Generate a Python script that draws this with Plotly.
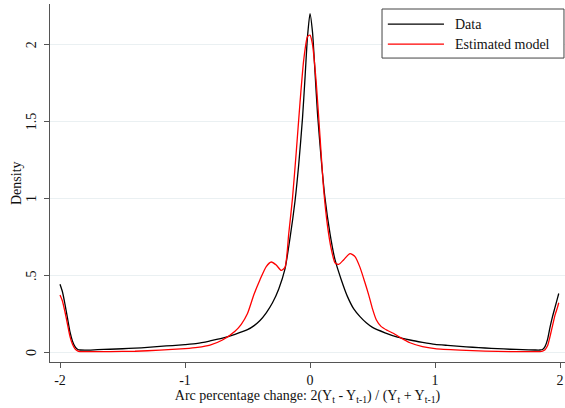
import plotly.graph_objects as go

# Kernel density: observed data
x_data = [-2.00, -1.98, -1.96, -1.94, -1.92, -1.90, -1.88, -1.86, -1.84, -1.80,
          -1.70, -1.60, -1.50, -1.40, -1.30, -1.20, -1.10, -1.00, -0.90, -0.80,
          -0.70, -0.60, -0.50, -0.45, -0.40, -0.35, -0.30, -0.25, -0.20, -0.16,
          -0.12, -0.09, -0.06, -0.04, -0.02, 0.00, 0.02, 0.04, 0.06, 0.09,
          0.12, 0.16, 0.20, 0.25, 0.30, 0.35, 0.40, 0.45, 0.50, 0.60,
          0.70, 0.80, 0.90, 1.00, 1.10, 1.20, 1.30, 1.40, 1.50, 1.60,
          1.70, 1.80, 1.84, 1.86, 1.88, 1.90, 1.92, 1.94, 1.96, 1.98, 1.99]
y_data = [0.44, 0.39, 0.31, 0.22, 0.13, 0.07, 0.035, 0.018, 0.013, 0.012,
          0.015, 0.018, 0.021, 0.025, 0.030, 0.037, 0.042, 0.048, 0.056, 0.072,
          0.090, 0.115, 0.145, 0.170, 0.205, 0.255, 0.32, 0.41, 0.54, 0.74,
          0.98, 1.22, 1.52, 1.78, 2.05, 2.20, 2.08, 1.82, 1.55, 1.25,
          1.00, 0.77, 0.60, 0.47, 0.36, 0.28, 0.23, 0.19, 0.16, 0.125,
          0.097, 0.078, 0.063, 0.050, 0.043, 0.037, 0.031, 0.026, 0.022, 0.018,
          0.015, 0.013, 0.013, 0.016, 0.035, 0.08, 0.16, 0.23, 0.29, 0.35, 0.38]

# Kernel density: estimated model
x_model = [-2.00, -1.98, -1.96, -1.94, -1.92, -1.90, -1.88, -1.86, -1.84, -1.80,
           -1.60, -1.40, -1.20, -1.00, -0.90, -0.80, -0.70, -0.60, -0.55, -0.50,
           -0.45, -0.40, -0.35, -0.31, -0.27, -0.23, -0.20, -0.17, -0.14, -0.11,
           -0.08, -0.05, -0.02, 0.00, 0.02, 0.05, 0.08, 0.11, 0.14, 0.17,
           0.20, 0.23, 0.27, 0.32, 0.36, 0.40, 0.44, 0.47, 0.50, 0.53,
           0.57, 0.62, 0.67, 0.72, 0.80, 0.90, 1.00, 1.20, 1.40, 1.60,
           1.80, 1.84, 1.86, 1.88, 1.90, 1.92, 1.94, 1.96, 1.98, 1.99]
y_model = [0.37, 0.33, 0.26, 0.18, 0.10, 0.05, 0.02, 0.007, 0.003, 0.002,
           0.003, 0.005, 0.012, 0.022, 0.030, 0.045, 0.078, 0.135, 0.18, 0.25,
           0.37, 0.47, 0.555, 0.585, 0.565, 0.53, 0.55, 0.77, 1.00, 1.30,
           1.62, 1.90, 2.05, 2.06, 2.00, 1.75, 1.40, 1.05, 0.82, 0.67,
           0.58, 0.57, 0.60, 0.64, 0.62, 0.55, 0.45, 0.37, 0.28, 0.21,
           0.165, 0.14, 0.12, 0.095, 0.06, 0.035, 0.022, 0.012, 0.006, 0.003,
           0.002, 0.003, 0.006, 0.015, 0.04, 0.10, 0.17, 0.24, 0.29, 0.32]

x_ticks = [-2, -1, 0, 1, 2]
x_tick_text = ["-2", "-1", "0", "1", "2"]
y_ticks = [0, 0.5, 1, 1.5, 2]
y_tick_text = ["0", ".5", "1", "1.5", "2"]
series_names = ["Data", "Estimated model"]
series_colors = ["black", "red"]

FONT = "Liberation Serif, Times New Roman, serif"
TXT = "#111111"

fig = go.Figure()
for xs, ys, name, color in [(x_data, y_data, series_names[0], series_colors[0]),
                            (x_model, y_model, series_names[1], series_colors[1])]:
    fig.add_trace(go.Scatter(x=xs, y=ys, mode="lines", name=name, showlegend=False,
                             line=dict(color=color, width=1.3, shape="spline", smoothing=0.6)))

# Legend box (drawn manually to match the long line samples)
shapes = [dict(type="rect", xref="paper", yref="paper", x0=0.6447, x1=0.998,
               y0=0.849, y1=0.986, line=dict(color="#444444", width=1),
               fillcolor="white", layer="above")]
annotations = []
for name, color, ly in zip(series_names, series_colors, [0.944, 0.888]):
    shapes.append(dict(type="line", xref="paper", yref="paper", x0=0.656, x1=0.765,
                       y0=ly, y1=ly, line=dict(color=color, width=1.3), layer="above"))
    annotations.append(dict(xref="paper", yref="paper", x=0.7825, y=ly, text=name,
                            showarrow=False, xanchor="left", yanchor="middle",
                            font=dict(family=FONT, size=14, color=TXT)))

# Rotated y tick labels placed on the y scale
for v, t in zip(y_ticks, y_tick_text):
    annotations.append(dict(xref="paper", yref="y", x=-0.037, y=v, text=t,
                            textangle=-90, showarrow=False, xanchor="center",
                            yanchor="middle", font=dict(family=FONT, size=14, color=TXT)))
# y axis title
annotations.append(dict(xref="paper", yref="paper", x=-0.066, y=0.5, text="Density",
                        textangle=-90, showarrow=False, xanchor="center", yanchor="middle",
                        font=dict(family=FONT, size=14, color=TXT)))

fig.update_layout(
    width=565, height=408,
    margin=dict(l=50, r=0, t=4, b=46),
    plot_bgcolor="white", paper_bgcolor="white",
    font=dict(family=FONT, size=14, color=TXT),
    shapes=shapes, annotations=annotations,
    xaxis=dict(range=[-2.08, 2.04], tickvals=x_ticks, ticktext=x_tick_text,
               showgrid=False, zeroline=False, showline=True, linecolor="#555555",
               linewidth=1.2, ticks="outside", ticklen=5, tickcolor="#555555",
               tickfont=dict(size=14),
               title=dict(text="Arc percentage change: 2(Y<sub>t</sub> - Y<sub>t-1</sub>) / (Y<sub>t</sub> + Y<sub>t-1</sub>)",
                          font=dict(size=14), standoff=3)),
    yaxis=dict(range=[-0.065, 2.262], tickvals=y_ticks, showticklabels=False,
               showgrid=True, gridcolor="#eaf0f2", gridwidth=1, zeroline=False,
               showline=True, linecolor="#555555", linewidth=1.2,
               ticks="outside", ticklen=5, tickcolor="#555555"),
)

fig.write_html("out.html")
